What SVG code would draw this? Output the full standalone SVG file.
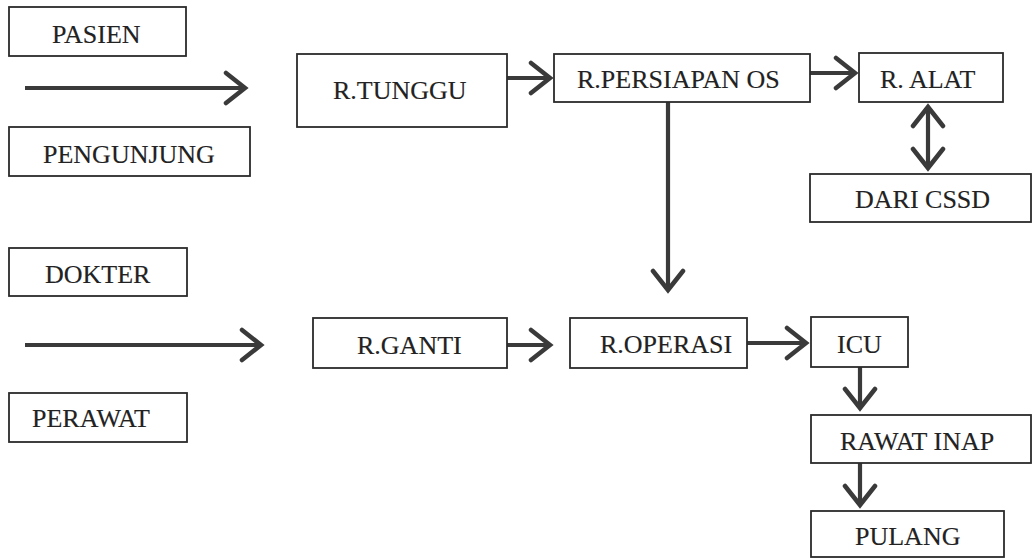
<svg xmlns="http://www.w3.org/2000/svg" width="1032" height="558" viewBox="0 0 1032 558">
  <defs>
    <style>
      .box rect { fill: #ffffff; stroke: #2b2b2b; stroke-width: 1.8; }
      .box text { font-family: "Liberation Serif", "Times New Roman", serif; font-size: 26px; fill: #222222; stroke: #222222; stroke-width: 0.15; }
      .conn path { fill: none; stroke: #3a3a3a; stroke-width: 4.2; }
    </style>
    <marker id="chev" markerUnits="userSpaceOnUse" markerWidth="32" markerHeight="36" viewBox="-25 -18 30 36" refX="0" refY="0" orient="auto-start-reverse">
      <path d="M-19,-15 L0,0 L-19,15" fill="none" stroke="#3a3a3a" stroke-width="4.5" stroke-linecap="round" stroke-linejoin="miter"/>
    </marker>
  </defs>
  <rect width="1032" height="558" fill="#ffffff"/>

  <!-- flow connectors -->
  <g id="connectors" class="conn">
    <path d="M25,88 H245" marker-end="url(#chev)"/>
    <path d="M507,78 H550" marker-end="url(#chev)"/>
    <path d="M810,73 H855" marker-end="url(#chev)"/>
    <path d="M668,102 V290" marker-end="url(#chev)"/>
    <path d="M928,107 V168" marker-start="url(#chev)" marker-end="url(#chev)"/>
    <path d="M25,345 H261" marker-end="url(#chev)"/>
    <path d="M507,345 H550" marker-end="url(#chev)"/>
    <path d="M747,343 H806" marker-end="url(#chev)"/>
    <path d="M860,367 V408" marker-end="url(#chev)"/>
    <path d="M860,463 V505" marker-end="url(#chev)"/>
  </g>

  <g id="pasien" class="box">
    <rect x="9" y="7" width="177" height="49"/>
    <text x="52" y="43">PASIEN</text>
  </g>
  <g id="pengunjung" class="box">
    <rect x="9" y="127" width="241" height="49"/>
    <text x="43" y="163">PENGUNJUNG</text>
  </g>
  <g id="r-tunggu" class="box">
    <rect x="297" y="54" width="210" height="73"/>
    <text x="333" y="99">R.TUNGGU</text>
  </g>
  <g id="r-persiapan-os" class="box">
    <rect x="554" y="54" width="256" height="48"/>
    <text x="577" y="88">R.PERSIAPAN OS</text>
  </g>
  <g id="r-alat" class="box">
    <rect x="859" y="53" width="144" height="49"/>
    <text x="880" y="88">R. ALAT</text>
  </g>
  <g id="dari-cssd" class="box">
    <rect x="810" y="174" width="221" height="48"/>
    <text x="855" y="208">DARI CSSD</text>
  </g>
  <g id="dokter" class="box">
    <rect x="9" y="248" width="178" height="48"/>
    <text x="45" y="283">DOKTER</text>
  </g>
  <g id="perawat" class="box">
    <rect x="9" y="393" width="178" height="49"/>
    <text x="32" y="427">PERAWAT</text>
  </g>
  <g id="r-ganti" class="box">
    <rect x="313" y="318" width="194" height="50"/>
    <text x="357" y="354">R.GANTI</text>
  </g>
  <g id="r-operasi" class="box">
    <rect x="570" y="318" width="177" height="50"/>
    <text x="600" y="353">R.OPERASI</text>
  </g>
  <g id="icu" class="box">
    <rect x="811" y="317" width="97" height="50"/>
    <text x="837" y="353">ICU</text>
  </g>
  <g id="rawat-inap" class="box">
    <rect x="811" y="415" width="220" height="48"/>
    <text x="840" y="450">RAWAT INAP</text>
  </g>
  <g id="pulang" class="box">
    <rect x="811" y="511" width="193" height="46"/>
    <text x="855" y="545">PULANG</text>
  </g>
</svg>
